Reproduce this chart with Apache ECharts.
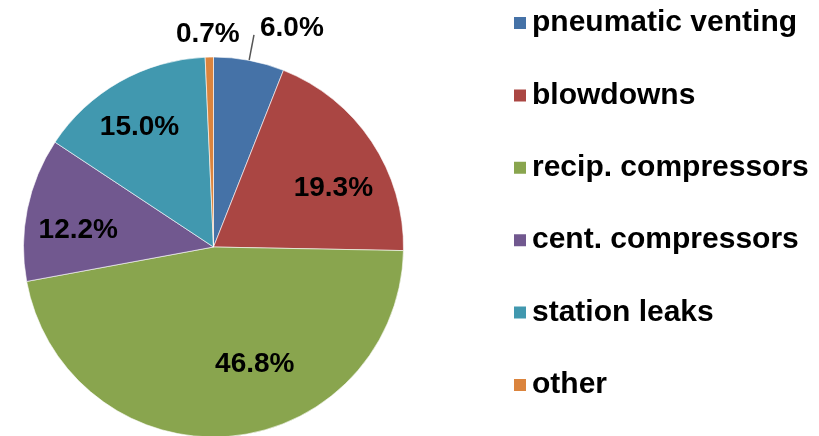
<!DOCTYPE html>
<html>
<head>
<meta charset="utf-8">
<script src="https://cdn.jsdelivr.net/npm/echarts@6/dist/echarts.min.js"></script>
<style>
html,body{margin:0;padding:0;background:#fff;}
#chart{width:819px;height:436px;}
</style>
</head>
<body>
<div id="chart"></div>
<script>
// ---- data ----
var categories = ['pneumatic venting', 'blowdowns', 'recip. compressors', 'cent. compressors', 'station leaks', 'other'];
var shares = [6.0, 19.3, 46.8, 12.2, 15.0, 0.7];
var colors = ['#4572A7', '#AA4643', '#89A54E', '#71588F', '#4198AF', '#DB843D'];
var outsideLabels = ['pneumatic venting', 'other'];

// ---- build ----
var FONT = '"Liberation Sans", Arial, Helvetica, sans-serif';
function fmt(p) { return p.value.toFixed(1) + '%'; }

var mainData = categories.map(function (c, i) {
  var outside = outsideLabels.indexOf(c) >= 0;
  return {
    name: c,
    value: shares[i],
    itemStyle: { color: colors[i] },
    label: { show: outside },
    labelLine: { show: outside && c === 'pneumatic venting' }
  };
});
var innerLabelData = categories.map(function (c, i) {
  var outside = outsideLabels.indexOf(c) >= 0;
  return { name: c, value: shares[i], label: { show: !outside } };
});

// label nudges (layout only)
var mainShift = { 0: { dx: 3, dy: -7 }, 5: { dx: 34, dy: 3 } };
var innerShift = { 1: { dx: 5, dy: 18 }, 2: { dx: 30, dy: -20 }, 3: { dx: 0, dy: 11 }, 4: { dx: -6, dy: 0 } };

var chart = echarts.init(document.getElementById('chart'), null, { renderer: 'canvas' });
chart.setOption({
  animation: false,
  backgroundColor: '#ffffff',
  legend: {
    orient: 'vertical',
    left: 507,
    top: 3,
    itemWidth: 14,
    itemHeight: 14,
    itemGap: 42.4,
    icon: 'rect',
    selectedMode: false,
    data: categories,
    textStyle: { fontFamily: FONT, fontWeight: 'bold', fontSize: 30, color: '#000', lineHeight: 30 }
  },
  series: [
    {
      type: 'pie',
      center: [213.5, 247],
      radius: [0, 190],
      startAngle: 90,
      clockwise: true,
      avoidLabelOverlap: false,
      silent: true,
      itemStyle: { borderColor: '#ffffff', borderWidth: 0.6 },
      label: {
        position: 'outside',
        formatter: fmt,
        fontFamily: FONT, fontWeight: 'bold', fontSize: 28, color: '#000',
        distanceToLabelLine: 3
      },
      labelLine: { length: 26, length2: 0, lineStyle: { color: '#555', width: 1.5 } },
      labelLayout: function (p) { return mainShift[p.dataIndex] || {}; },
      data: mainData
    },
    {
      type: 'pie',
      center: [213.5, 247],
      radius: [120, 150],
      startAngle: 90,
      clockwise: true,
      silent: true,
      z: 5,
      itemStyle: { color: 'rgba(0,0,0,0)' },
      label: {
        position: 'inside',
        formatter: fmt,
        fontFamily: FONT, fontWeight: 'bold', fontSize: 28, color: '#000'
      },
      labelLine: { show: false },
      labelLayout: function (p) { return innerShift[p.dataIndex] || {}; },
      data: innerLabelData
    }
  ]
});
</script>
</body>
</html>
